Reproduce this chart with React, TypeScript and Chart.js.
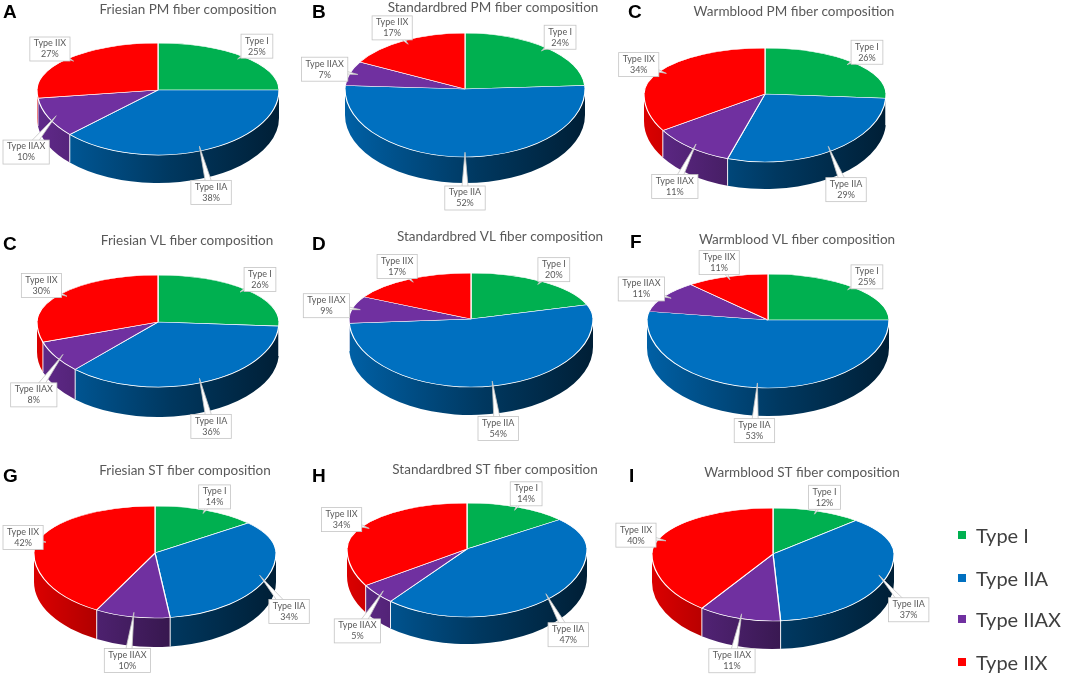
import { useEffect, useRef } from 'react';
import { Chart, registerables } from 'chart.js';

Chart.register(...registerables);

// ---- data ----
const fiberTypes = ['Type I', 'Type IIA', 'Type IIAX', 'Type IIX'];
const fiberColors = ['#00b050', '#0070c0', '#7030a0', '#ff0000'];

const friesianPM = [25, 38, 10, 27];
const standardbredPM = [24, 52, 7, 17];
const warmbloodPM = [26, 29, 11, 34];
const friesianVL = [26, 36, 8, 30];
const standardbredVL = [20, 54, 9, 17];
const warmbloodVL = [25, 53, 11, 11];
const friesianST = [14, 34, 10, 42];
const standardbredST = [14, 47, 5, 34];
const warmbloodST = [12, 37, 11, 40];

// ---- layout ----
const CANVAS_W = 420;
const CANVAS_H = 225;
const rowTops = [0, 220, 450];

const panels = [
  { letter: 'A', lx: 3, ly: 2, row: 0, title: 'Friesian PM fiber composition', values: friesianPM, titleCx: 188, titleY: 10, cx: 158, cy: 90, rx: 121, ryT: 47, ryB: 65, depth: 28 },
  { letter: 'B', lx: 312, ly: 2, row: 0, title: 'Standardbred PM fiber composition', values: standardbredPM, titleCx: 493, titleY: 8, cx: 465, cy: 89, rx: 120, ryT: 56, ryB: 68, depth: 26 },
  { letter: 'C', lx: 628, ly: 2, row: 0, title: 'Warmblood PM fiber composition', values: warmbloodPM, titleCx: 794, titleY: 12, cx: 765, cy: 94, rx: 121, ryT: 46, ryB: 68, depth: 27 },
  { letter: 'C', lx: 3, ly: 234, row: 1, title: 'Friesian VL fiber composition', values: friesianVL, titleCx: 187, titleY: 241, cx: 158, cy: 322, rx: 121, ryT: 47, ryB: 65, depth: 30 },
  { letter: 'D', lx: 312, ly: 234, row: 1, title: 'Standardbred VL fiber composition', values: standardbredVL, titleCx: 500, titleY: 237, cx: 471, cy: 319, rx: 122, ryT: 46, ryB: 68, depth: 28 },
  { letter: 'F', lx: 630, ly: 232, row: 1, title: 'Warmblood VL fiber composition', values: warmbloodVL, titleCx: 797, titleY: 240, cx: 768, cy: 320, rx: 121, ryT: 46, ryB: 68, depth: 28 },
  { letter: 'G', lx: 3, ly: 466, row: 2, title: 'Friesian ST fiber composition', values: friesianST, titleCx: 185, titleY: 471, cx: 155, cy: 553, rx: 121, ryT: 47, ryB: 65, depth: 29 },
  { letter: 'H', lx: 312, ly: 466, row: 2, title: 'Standardbred ST fiber composition', values: standardbredST, titleCx: 495, titleY: 470, cx: 467, cy: 549, rx: 120, ryT: 46, ryB: 68, depth: 27 },
  { letter: 'I', lx: 629, ly: 466, row: 2, title: 'Warmblood ST fiber composition', values: warmbloodST, titleCx: 802, titleY: 473, cx: 773, cy: 554, rx: 121, ryT: 46, ryB: 67, depth: 28 },
];

const legendY = [535, 578, 619, 662];

function shade(hex: string, f: number) {
  const n = parseInt(hex.slice(1), 16);
  const r = Math.round(((n >> 16) & 255) * f);
  const g = Math.round(((n >> 8) & 255) * f);
  const b = Math.round((n & 255) * f);
  return `rgb(${r},${g},${b})`;
}

// draws the pie as a tilted disc: side wall, squashed top face, callout labels
const pie3d = {
  id: 'pie3d',
  beforeDatasetsDraw(chart: any, _args: any, opts: any) {
    const arcs: any[] = chart.getDatasetMeta(0).data;
    if (!arcs.length) return false;
    const ctx = chart.ctx;
    const { cx, cy, rx, ryT, ryB, depth, minX } = opts;
    const colors: string[] = chart.data.datasets[0].backgroundColor;
    const R = arcs[0].outerRadius;
    const s = rx / R;

    // side wall (front half only)
    arcs.forEach((arc, i) => {
      const a0 = Math.max(arc.startAngle, 0);
      const a1 = Math.min(arc.endAngle, Math.PI);
      if (a1 <= a0) return;
      const grad = ctx.createLinearGradient(cx - rx, 0, cx + rx, 0);
      grad.addColorStop(0, shade(colors[i], 0.86));
      grad.addColorStop(0.55, shade(colors[i], 0.5));
      grad.addColorStop(1, shade(colors[i], 0.28));
      ctx.save();
      ctx.beginPath();
      ctx.ellipse(cx, cy, rx, ryB, 0, a0, a1);
      ctx.ellipse(cx, cy + depth, rx, ryB, 0, a1, a0, true);
      ctx.closePath();
      ctx.fillStyle = grad;
      ctx.fill();
      ctx.restore();
    });
    // white seams on the wall at slice boundaries
    ctx.save();
    ctx.strokeStyle = 'rgba(255,255,255,0.9)';
    ctx.lineWidth = 1;
    arcs.forEach((arc) => {
      const a = arc.startAngle;
      if (a > 0 && a < Math.PI) {
        const x = cx + rx * Math.cos(a);
        const y = cy + ryB * Math.sin(a);
        ctx.beginPath();
        ctx.moveTo(x, y);
        ctx.lineTo(x, y + depth);
        ctx.stroke();
      }
    });
    ctx.restore();

    // top face, back half and front half squashed differently
    const halves: [number, boolean][] = [[ryT, true], [ryB, false]];
    halves.forEach(([ry, top]) => {
      ctx.save();
      ctx.beginPath();
      if (top) ctx.rect(0, 0, chart.width, cy + 0.5);
      else ctx.rect(0, cy - 0.5, chart.width, chart.height - cy + 0.5);
      ctx.clip();
      ctx.translate(cx, cy);
      ctx.scale(s, (s * ry) / rx);
      ctx.translate(-arcs[0].x, -arcs[0].y);
      arcs.forEach((a) => a.draw(ctx));
      ctx.restore();
    });

    // callout labels
    const labels: string[] = chart.data.labels;
    const values: number[] = chart.data.datasets[0].data;
    ctx.save();
    ctx.font = '9px Lato';
    ctx.textAlign = 'center';
    ctx.textBaseline = 'middle';
    arcs.forEach((arc, i) => {
      const m = (arc.startAngle + arc.endAngle) / 2;
      const c = Math.cos(m);
      const sn = Math.sin(m);
      const ry = sn < 0 ? ryT : ryB;
      const l1 = labels[i];
      const l2 = values[i] + '%';
      const w = Math.max(ctx.measureText(l1).width, ctx.measureText(l2).width) + 8;
      const h = 24;
      const ex = cx + rx * c;
      const ey = cy + ry * sn + (sn > 0 ? depth : 0);
      const gap = 3;
      const bx = Math.max(ex + c * (gap + w / 2), minX + w / 2);
      const by = ey + sn * (gap + h / 2);
      const tx = cx + 0.93 * rx * c;
      const ty = cy + 0.93 * ry * sn;
      const dx = tx - bx;
      const dy = ty - by;
      const len = Math.hypot(dx, dy) || 1;
      const px = (-dy / len) * 4;
      const py = (dx / len) * 4;
      ctx.beginPath();
      ctx.moveTo(bx + px, by + py);
      ctx.lineTo(tx, ty);
      ctx.lineTo(bx - px, by - py);
      ctx.closePath();
      ctx.fillStyle = '#ffffff';
      ctx.fill();
      ctx.strokeStyle = '#c4c4c4';
      ctx.lineWidth = 0.8;
      ctx.stroke();
      ctx.fillRect(bx - w / 2, by - h / 2, w, h);
      ctx.strokeRect(bx - w / 2, by - h / 2, w, h);
      ctx.fillStyle = '#595959';
      ctx.fillText(l1, bx, by - 5.5);
      ctx.fillText(l2, bx, by + 5.5);
    });
    ctx.restore();
    return false;
  },
};

function PiePanel({ p }: { p: any }) {
  const ref = useRef<HTMLCanvasElement>(null);
  const left = p.titleCx - CANVAS_W / 2;
  const top = rowTops[p.row];

  useEffect(() => {
    if (!ref.current) return;
    const chart = new Chart(ref.current, {
      type: 'pie',
      data: {
        labels: fiberTypes,
        datasets: [
          {
            data: p.values,
            backgroundColor: fiberColors,
            borderColor: '#ffffff',
            borderWidth: 1,
          },
        ],
      },
      options: {
        responsive: true,
        maintainAspectRatio: false,
        animation: false,
        events: [],
        layout: { padding: 0 },
        plugins: {
          legend: { display: false },
          tooltip: { enabled: false },
          title: {
            display: true,
            text: p.title,
            color: '#595959',
            font: { family: 'Lato', size: 13.5, weight: 'normal' },
            padding: { top: p.titleY - top - 8, bottom: 4 },
          },
          pie3d: {
            cx: p.cx - left,
            cy: p.cy - top,
            rx: p.rx,
            ryT: p.ryT,
            ryB: p.ryB,
            depth: p.depth,
            minX: 3 - left,
          },
        } as any,
      },
      plugins: [pie3d],
    });
    return () => chart.destroy();
  }, []);

  return (
    <div style={{ position: 'absolute', left, top, width: CANVAS_W, height: CANVAS_H }}>
      <canvas ref={ref} />
    </div>
  );
}

export default function App() {
  return (
    <div
      style={{
        position: 'fixed',
        left: 0,
        top: 0,
        width: 1065,
        height: 675,
        background: '#ffffff',
        overflow: 'hidden',
      }}
    >
      {panels.map((p, i) => (
        <PiePanel key={i} p={p} />
      ))}
      {panels.map((p, i) => (
        <div
          key={'l' + i}
          style={{
            position: 'absolute',
            left: p.lx,
            top: p.ly,
            font: 'bold 19px "Liberation Sans", Arial, sans-serif',
            lineHeight: 1,
            color: '#000',
          }}
        >
          {p.letter}
        </div>
      ))}
      {fiberTypes.map((t, i) => (
        <div
          key={t}
          style={{
            position: 'absolute',
            left: 958,
            top: legendY[i] - 15,
            height: 30,
            display: 'flex',
            alignItems: 'center',
            font: '20px Lato, sans-serif',
            color: '#404040',
            whiteSpace: 'nowrap',
          }}
        >
          <span style={{ width: 8, height: 8, background: fiberColors[i], marginRight: 10, display: 'inline-block' }} />
          {t}
        </div>
      ))}
    </div>
  );
}
